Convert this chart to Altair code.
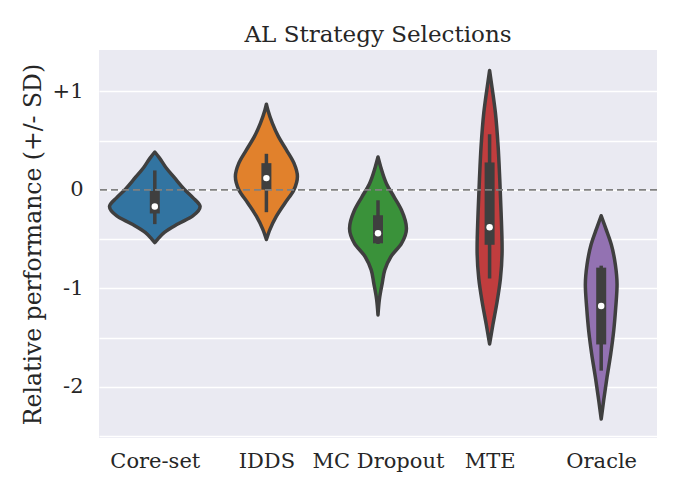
import altair as alt
import pandas as pd

categories = ["Core-set", "IDDS", "MC Dropout", "MTE", "Oracle"]
colors = ["#3274a1", "#e1812c", "#3a923a", "#c03d3e", "#9372b2"]

# density profiles: value (SD units) and half-width (fraction of category spacing)
core_v = [0.384, 0.325, 0.224, 0.123, 0.005, -0.079, -0.170, -0.265, -0.348, -0.432, -0.500, -0.535]
core_w = [0.0, 0.041, 0.101, 0.176, 0.265, 0.341, 0.406, 0.341, 0.206, 0.086, 0.027, 0.0]
idds_v = [0.869, 0.810, 0.675, 0.540, 0.406, 0.271, 0.136, 0.002, -0.133, -0.268, -0.402, -0.505]
idds_w = [0.0, 0.013, 0.054, 0.108, 0.179, 0.247, 0.278, 0.247, 0.167, 0.090, 0.032, 0.0]
mcd_v = [0.333, 0.230, 0.063, -0.073, -0.207, -0.392, -0.543, -0.679, -0.813, -0.947, -1.116, -1.270]
mcd_w = [0.0, 0.025, 0.076, 0.145, 0.211, 0.255, 0.211, 0.115, 0.061, 0.038, 0.012, 0.0]
mte_v = [1.212, 1.086, 0.783, 0.446, 0.109, -0.227, -0.598, -0.901, -1.136, -1.372, -1.566]
mte_w = [0.0, 0.016, 0.052, 0.076, 0.091, 0.103, 0.112, 0.097, 0.067, 0.029, 0.0]
orc_v = [-0.263, -0.389, -0.558, -0.760, -0.962, -1.197, -1.432, -1.669, -1.904, -2.139, -2.326]
orc_w = [0.0, 0.040, 0.091, 0.127, 0.142, 0.130, 0.112, 0.085, 0.052, 0.022, 0.0]

# inner box statistics
whisk_lo = [-0.348, -0.227, -0.55, -0.901, -1.836]
whisk_hi = [0.197, 0.366, -0.106, 0.564, -0.77]
q1 = [-0.240, 0.002, -0.543, -0.558, -1.57]
q3 = [-0.012, 0.271, -0.258, 0.278, -0.79]
median = [-0.170, 0.119, -0.442, -0.379, -1.180]

y_ticks = [-2.5, -2.0, -1.5, -1.0, -0.5, 0.0, 0.5, 1.0]

profiles = [(core_v, core_w), (idds_v, idds_w), (mcd_v, mcd_w), (mte_v, mte_w), (orc_v, orc_w)]
rows = []
for i, (vs, ws) in enumerate(profiles):
    for v, w in zip(vs, ws):
        rows.append({"cat": categories[i], "v": v, "lo": i - w, "hi": i + w})
vdf = pd.DataFrame(rows).sort_values(["cat", "v"])

bdf = pd.DataFrame({"cat": categories, "pos": list(range(len(categories))),
                    "wlo": whisk_lo, "whi": whisk_hi, "q1": q1, "q3": q3, "med": median})

FONT = "DejaVu Serif"
TXT = "#262626"
DARK = "#3f3f3f"
YTITLE = "Relative performance (+/- SD)"

xlab_expr = "[" + ",".join(f"'{c}'" for c in categories) + "][datum.value]"
ylab_expr = "datum.value == 1 ? '+1' : (datum.value % 1 == 0 ? '' + datum.value : '')"

xscale = alt.Scale(domain=[-0.5, 4.5], nice=False, zero=False)
yscale = alt.Scale(domain=[-2.52, 1.42], nice=False, zero=False)
xaxis = alt.Axis(values=list(range(len(categories))), labelExpr=xlab_expr, grid=False,
                 labelFontSize=21, labelPadding=12)
yaxis = alt.Axis(values=y_ticks, labelExpr=ylab_expr, labelFontSize=21, labelPadding=16,
                 titleFontSize=23.5, titlePadding=7)


def X(field):
    return alt.X(field, scale=xscale, title=None, axis=xaxis)


def Y(field):
    return alt.Y(field, scale=yscale, title=YTITLE, axis=yaxis)


violins = alt.Chart(vdf).mark_area(
    orient="horizontal", interpolate="monotone", stroke=DARK, strokeWidth=3.5,
    strokeJoin="round", opacity=1
).encode(
    y=Y("v:Q"),
    x=X("lo:Q"),
    x2="hi:Q",
    color=alt.Color("cat:N", scale=alt.Scale(domain=categories, range=colors), legend=None),
)

whiskers = alt.Chart(bdf).mark_rule(color=DARK, strokeWidth=3.5).encode(
    x=X("pos:Q"), y=Y("wlo:Q"), y2="whi:Q",
)
boxes = alt.Chart(bdf).mark_rule(color=DARK, strokeWidth=10).encode(
    x=X("pos:Q"), y=Y("q1:Q"), y2="q3:Q",
)
meds = alt.Chart(bdf).mark_point(filled=True, color="white", size=42, opacity=1, shape="circle").encode(
    x=X("pos:Q"), y=Y("med:Q"),
)
zero = alt.Chart(pd.DataFrame({"z": [0.0]})).mark_rule(
    color="#808080", strokeWidth=1.6, strokeDash=[7, 4]
).encode(y=Y("z:Q"))

chart = alt.layer(violins, whiskers, boxes, meds, zero).properties(
    width=558, height=388,
    autosize=alt.AutoSizeParams(type="none"),
    padding={"left": 91, "top": 42, "right": 17, "bottom": 54},
    title=alt.TitleParams("AL Strategy Selections", font=FONT, fontSize=23,
                          fontWeight="normal", color=TXT, offset=3, anchor="middle"),
).configure_view(fill="#EAEAF2", stroke=None).configure_axis(
    labelFont=FONT, labelColor=TXT,
    titleFont=FONT, titleColor=TXT, titleFontWeight="normal",
    domain=False, ticks=False, tickSize=0,
    gridColor="white", gridWidth=1.3,
)

chart.save("out.html", embed_options={"renderer": "svg", "actions": False})
